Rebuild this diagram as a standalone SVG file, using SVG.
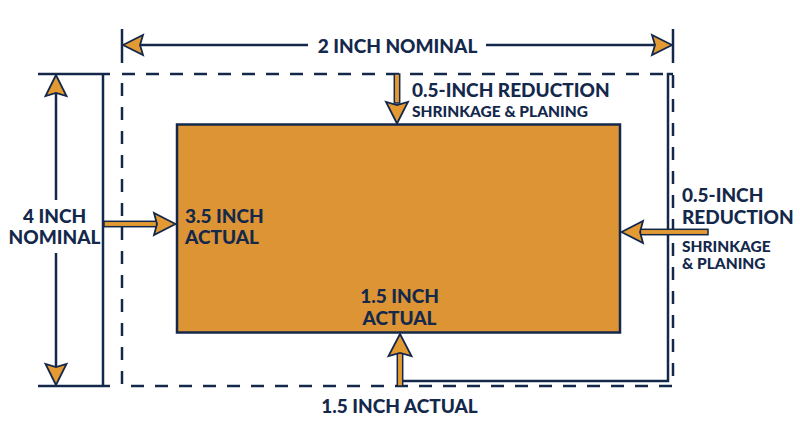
<svg xmlns="http://www.w3.org/2000/svg" width="800" height="447" viewBox="0 0 800 447">
<style>
.t{font-family:Lato,"Open Sans","Liberation Sans",sans-serif;font-weight:900;fill:#14284B}
.big{font-size:19px}
.sm{font-size:15.5px}
.ln{stroke:#14284B;stroke-width:2.5;fill:none}
.dash{stroke:#14284B;stroke-width:2.5;fill:none;stroke-dasharray:13 11}
.ah{fill:#E39A33;stroke:#14284B;stroke-width:1.8;stroke-linejoin:miter}
.sh{fill:#E39A33;stroke:#14284B;stroke-width:1.5}
</style>
<rect width="800" height="447" fill="#FFFFFF"/>
<g id="board">
<rect x="177" y="124.5" width="443" height="208" fill="#DC9434" stroke="#14284B" stroke-width="2.5"/>
</g>
<g id="nominal-outline">
<path class="dash" d="M122 74 H673 V386 H122 Z"/>
</g>
<g id="connectors">
<path class="ln" d="M122 29 V63 M673 29 V63"/>
<path class="ln" d="M140 45 H308 M486 45 H654"/>
<path class="ah" d="M123 45 L143 35 L140 45 L143 55 Z"/>
<path class="ah" d="M672 45 L652 35 L655 45 L652 55 Z"/>
<path class="ln" d="M38 74 H110 M38 386 H110 M103 74 V386"/>
<path class="ln" d="M56 94 V200 M56 253 V367"/>
<path class="ah" d="M56 75 L45.5 96 L56 93 L66.5 96 Z"/>
<path class="ah" d="M56 385 L45.5 364 L56 367 L66.5 364 Z"/>
<path class="ln" d="M673 74 H668 V381 H403"/>
<rect class="sh" x="104" y="221.3" width="53" height="5.4"/>
<path class="ah" d="M175.5 224 L154 213 L157 224 L154 235 Z"/>
<rect class="sh" x="394.3" y="74" width="5.4" height="29"/>
<path class="ah" d="M397 123.5 L386 102 L397 105 L408 102 Z"/>
<rect class="sh" x="640" y="229.3" width="68" height="5.4"/>
<path class="ah" d="M621.5 232 L643 221 L640 232 L643 243 Z"/>
<rect class="sh" x="397.3" y="353" width="5.4" height="33"/>
<path class="ah" d="M400 334 L388.5 356 L400 353 L411.5 356 Z"/>
</g>
<g id="labels">
<text class="t big" x="397.5" y="53" text-anchor="middle">2 INCH NOMINAL</text>
<text class="t big" x="54.5" y="222.5" text-anchor="middle">4 INCH</text>
<text class="t big" x="54.5" y="244" text-anchor="middle">NOMINAL</text>
<text class="t big" x="185" y="222.5">3.5 INCH</text>
<text class="t big" x="185" y="244">ACTUAL</text>
<text class="t big" x="412" y="97">0.5-INCH REDUCTION</text>
<text class="t sm" x="412" y="116.5">SHRINKAGE &amp; PLANING</text>
<text class="t big" x="682" y="202">0.5-INCH</text>
<text class="t big" x="682" y="223.5">REDUCTION</text>
<text class="t sm" x="682" y="251.5">SHRINKAGE</text>
<text class="t sm" x="682" y="268.5">&amp; PLANING</text>
<text class="t big" x="399.5" y="303" text-anchor="middle">1.5 INCH</text>
<text class="t big" x="399.5" y="325" text-anchor="middle">ACTUAL</text>
<text class="t big" x="399.5" y="413" text-anchor="middle">1.5 INCH ACTUAL</text>
</g>
</svg>
